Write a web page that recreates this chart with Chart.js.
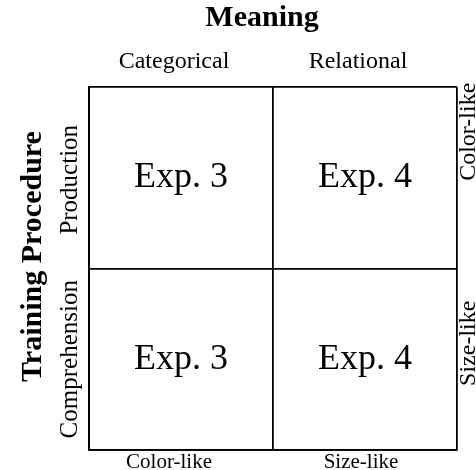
<!DOCTYPE html>
<html>
<head>
<meta charset="utf-8">
<script src="https://cdn.jsdelivr.net/npm/chart.js@4.4.1/dist/chart.umd.min.js"></script>
<style>
  html, body { margin: 0; padding: 0; background: #fff; }
  canvas { display: block; }
</style>
</head>
<body>
<canvas id="grid" width="476" height="470"></canvas>
<script>
// ── Data ──────────────────────────────────────────────────────────────────
const TITLE_TOP = 'Meaning';
const TITLE_LEFT = 'Training Procedure';
const MEANINGS = ['Categorical', 'Relational'];          // columns (top)
const PROCEDURES = ['Production', 'Comprehension'];      // rows (left)
const RIGHT_LABELS = ['Color-like', 'Size-like'];        // rows (right)
const BOTTOM_LABELS = ['Color-like', 'Size-like'];       // columns (bottom)

const CELL_COL = [0, 1, 0, 1];
const CELL_ROW = [0, 0, 1, 1];
const CELL_TEXT = ['Exp. 3', 'Exp. 4', 'Exp. 3', 'Exp. 4'];

// ── Style ─────────────────────────────────────────────────────────────────
const SERIF = '"Liberation Serif", "Times New Roman", serif';
// small per-label nudges to match the scan (pixels, along the axis)
const TOP_NUDGE = [-7, -7];
const BOTTOM_NUDGE = [-12, -4];
const LEFT_NUDGE = [2, 0];
const RIGHT_NUDGE = [-46, -16];

// columns 0..1 -> x centres 0.5, 1.5 ; rows 0 (top) .. 1 -> y centres 1.5, 0.5
const colCenter = c => c + 0.5;
const rowCenter = r => 1.5 - r;

const cellData = CELL_TEXT.map((t, i) => ({ x: colCenter(CELL_COL[i]), y: rowCenter(CELL_ROW[i]) }));

const textPlugin = {
  id: 'gridText',
  afterDraw(chart) {
    const { ctx, scales, chartArea } = chart;
    const xs = scales.x, ys = scales.y;
    ctx.save();
    ctx.fillStyle = '#000';
    ctx.textAlign = 'center';
    ctx.textBaseline = 'middle';

    // cell texts, placed at the dataset points
    const meta = chart.getDatasetMeta(0);
    ctx.font = '36px ' + SERIF;
    meta.data.forEach((pt, i) => {
      ctx.fillText(CELL_TEXT[i], pt.x, pt.y);
    });

    // top title + column headers
    ctx.font = 'bold 30px ' + SERIF;
    ctx.fillText(TITLE_TOP, (chartArea.left + chartArea.right) / 2 - 11, 18);
    ctx.font = '24px ' + SERIF;
    MEANINGS.forEach((m, c) => {
      ctx.fillText(m, xs.getPixelForValue(colCenter(c)) + TOP_NUDGE[c], chartArea.top - 25);
    });
    ctx.font = '21px ' + SERIF;
    ctx.textBaseline = 'alphabetic';
    BOTTOM_LABELS.forEach((m, c) => {
      ctx.fillText(m, xs.getPixelForValue(colCenter(c)) + BOTTOM_NUDGE[c], chartArea.bottom + 18);
    });
    ctx.textBaseline = 'middle';

    // rotated labels
    const vtext = (txt, x, y) => {
      ctx.save();
      ctx.translate(x, y);
      ctx.rotate(-Math.PI / 2);
      ctx.fillText(txt, 0, 0);
      ctx.restore();
    };
    ctx.font = 'bold 30px ' + SERIF;
    vtext(TITLE_LEFT, 33, (chartArea.top + chartArea.bottom) / 2 - 12);
    ctx.font = '25px ' + SERIF;
    PROCEDURES.forEach((p, r) => {
      vtext(p, chartArea.left - 19, ys.getPixelForValue(rowCenter(r)) + LEFT_NUDGE[r]);
    });
    ctx.font = '24px ' + SERIF;
    RIGHT_LABELS.forEach((p, r) => {
      vtext(p, chartArea.right + 12, ys.getPixelForValue(rowCenter(r)) + RIGHT_NUDGE[r]);
    });
    ctx.restore();
  },
};

const gridOpts = {
  color: '#000',
  lineWidth: 1.8,
  drawTicks: false,
};

new Chart(document.getElementById('grid'), {
  type: 'scatter',
  plugins: [textPlugin],
  data: {
    datasets: [{
      data: cellData,
      pointRadius: 0,
      showLine: false,
    }],
  },
  options: {
    responsive: false,
    animation: false,
    layout: { padding: { left: 89, top: 87, right: 19, bottom: 20 } },
    plugins: {
      legend: { display: false },
      tooltip: { enabled: false },
    },
    scales: {
      x: {
        type: 'linear', min: 0, max: 2,
        ticks: { display: false, stepSize: 1 },
        grid: gridOpts,
        border: { color: '#000', width: 1.8 },
      },
      y: {
        type: 'linear', min: 0, max: 2,
        ticks: { display: false, stepSize: 1 },
        grid: gridOpts,
        border: { color: '#000', width: 1.8 },
      },
    },
  },
});
</script>
</body>
</html>
